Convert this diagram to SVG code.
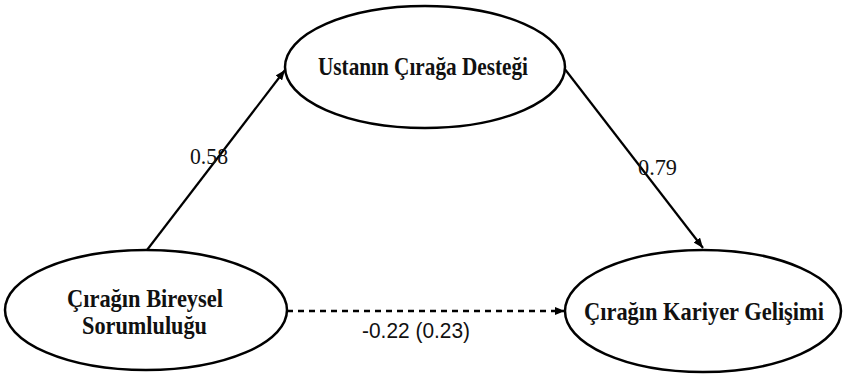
<svg xmlns="http://www.w3.org/2000/svg" width="844" height="376" viewBox="0 0 844 376">
<style>
.node{fill:#fff;stroke:#000;stroke-width:2.5}
.nt{font-family:"Liberation Serif",serif;font-weight:bold;font-size:25px;fill:#111;text-anchor:middle}
.edge{stroke:#000;stroke-width:2.2;fill:none}
.dash{stroke-dasharray:6 5;stroke-width:2.5}
.lbl{font-family:"Liberation Serif",serif;font-size:24px;fill:#111}
.lbls{font-family:"Liberation Sans",sans-serif;font-size:22px;fill:#111}
</style>
<defs>
<marker id="ah" viewBox="0 0 10 8" refX="10" refY="4" markerWidth="10" markerHeight="8" markerUnits="userSpaceOnUse" orient="auto">
<path d="M0,0 L10,4 L0,8 Z" fill="#000"/>
</marker>
</defs>
<rect width="844" height="376" fill="#fff"/>
<g id="connectors">
<line class="edge" x1="147" y1="250" x2="285" y2="70" marker-end="url(#ah)"/>
<line class="edge" x1="564" y1="68" x2="703" y2="248" marker-end="url(#ah)"/>
<line class="edge dash" x1="287" y1="311" x2="565" y2="311" marker-end="url(#ah)"/>
<text class="lbl" x="190" y="164" textLength="38" lengthAdjust="spacingAndGlyphs">0.58</text>
<text class="lbl" x="638" y="175" textLength="39" lengthAdjust="spacingAndGlyphs">0.79</text>
<text class="lbls" x="362" y="338" textLength="108" lengthAdjust="spacingAndGlyphs">-0.22 (0.23)</text>
</g>
<g id="node-ustanin">
<ellipse class="node" cx="425" cy="67" rx="140" ry="61"/>
<text class="nt" x="423" y="75" textLength="210" lengthAdjust="spacingAndGlyphs">Ustanın Çırağa Desteği</text>
</g>
<g id="node-bireysel">
<ellipse class="node" cx="146" cy="310" rx="141" ry="60"/>
<text class="nt" x="145" y="307" textLength="156" lengthAdjust="spacingAndGlyphs">Çırağın Bireysel</text>
<text class="nt" x="144.5" y="334" textLength="125" lengthAdjust="spacingAndGlyphs">Sorumluluğu</text>
</g>
<g id="node-kariyer">
<ellipse class="node" cx="703" cy="311" rx="138" ry="61"/>
<text class="nt" x="704" y="320" textLength="240" lengthAdjust="spacingAndGlyphs">Çırağın Kariyer Gelişimi</text>
</g>
</svg>
